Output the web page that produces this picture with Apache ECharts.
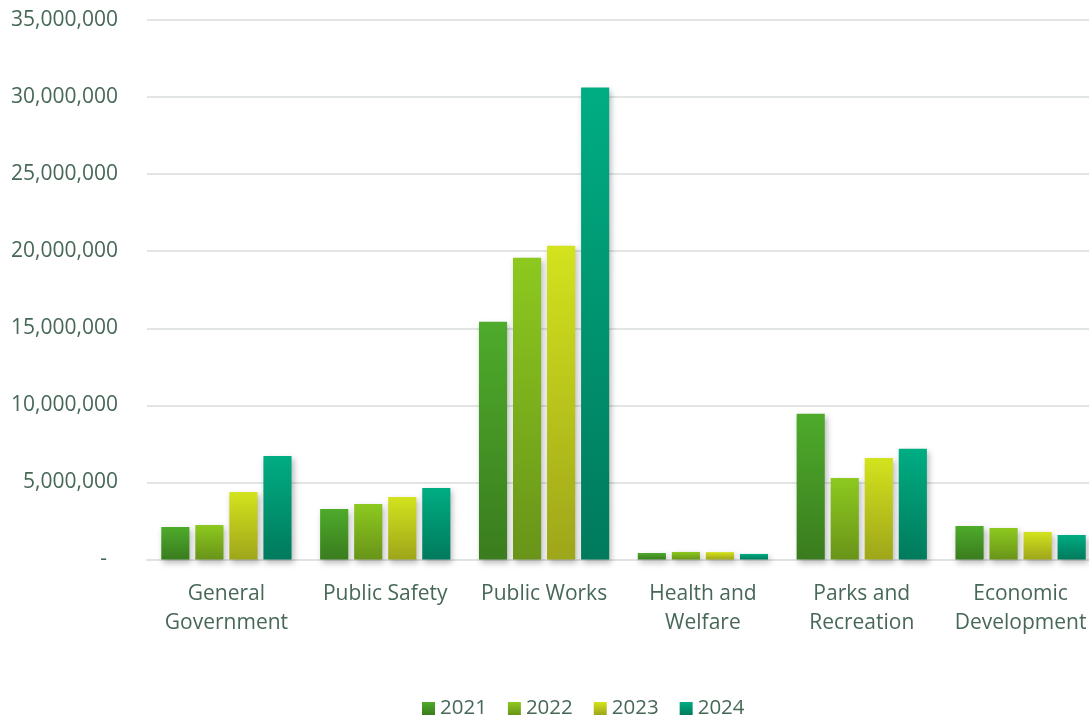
<!DOCTYPE html>
<html>
<head>
<meta charset="utf-8">
<script src="https://cdn.jsdelivr.net/npm/echarts@6/dist/echarts.min.js"></script>
<style>
  html, body { margin: 0; padding: 0; background: #fff; overflow: hidden; }
  #chart { width: 1100px; height: 717px; }
</style>
</head>
<body>
<div id="chart"></div>
<script>
// Expenditures by function, fiscal years 2021–2024
const categories = ['General\nGovernment', 'Public Safety', 'Public Works', 'Health and\nWelfare', 'Parks and\nRecreation', 'Economic\nDevelopment'];
const years = ['2021', '2022', '2023', '2024'];

const values2021 = [2110000, 3280000, 15420000, 420000, 9450000, 2180000];
const values2022 = [2240000, 3600000, 19580000, 490000, 5290000, 2050000];
const values2023 = [4380000, 4060000, 20360000, 480000, 6590000, 1790000];
const values2024 = [6720000, 4640000, 30620000, 360000, 7180000, 1590000];

const yTicks = { min: 0, max: 35000000, interval: 5000000 };

// top / bottom colours of each year's vertical gradient
const palette = [
  ['#4eab2b', '#3a7c1e'],
  ['#8dc91f', '#699419'],
  ['#d3e31d', '#9ea61a'],
  ['#00ad83', '#007a5c']
];

const textColor = '#476857';
const fontFamily = '"Open Sans", "Noto Sans", sans-serif';

function grad(c) {
  return new echarts.graphic.LinearGradient(0, 0, 0, 1, [
    { offset: 0, color: c[0] },
    { offset: 1, color: c[1] }
  ]);
}

const seriesValues = [values2021, values2022, values2023, values2024];

const series = years.map((y, i) => ({
  name: y,
  type: 'bar',
  data: seriesValues[i],
  barGap: '21%',
  barCategoryGap: '18%',
  itemStyle: {
    color: grad(palette[i]),
    shadowColor: 'rgba(0,0,0,0.28)',
    shadowBlur: 6,
    shadowOffsetX: 2,
    shadowOffsetY: 3
  }
}));

const chart = echarts.init(document.getElementById('chart'), null, { renderer: 'canvas' });
chart.setOption({
  backgroundColor: '#ffffff',
  animation: false,
  textStyle: { fontFamily: fontFamily },
  grid: { left: 147, right: 0, top: 20, bottom: 157.5, containLabel: false },
  legend: {
    data: years.map((y, i) => ({ name: y, itemStyle: { color: grad(palette[i]) } })),
    top: 693,
    left: 417,
    itemWidth: 13,
    itemHeight: 13,
    itemGap: 21,
    icon: 'rect',
    textStyle: { color: textColor, fontSize: 20.5, fontFamily: fontFamily }
  },
  xAxis: {
    type: 'category',
    data: categories,
    axisLine: { show: true, lineStyle: { color: '#dfe3e1', width: 2 } },
    axisTick: { show: false },
    axisLabel: {
      color: textColor,
      fontSize: 21,
      fontFamily: fontFamily,
      lineHeight: 29,
      margin: 20,
      interval: 0
    }
  },
  yAxis: {
    type: 'value',
    min: yTicks.min,
    max: yTicks.max,
    interval: yTicks.interval,
    axisLine: { show: false },
    axisTick: { show: false },
    splitLine: { lineStyle: { color: '#e1e5e3', width: 2 } },
    axisLabel: {
      color: textColor,
      fontSize: 21,
      fontFamily: fontFamily,
      margin: 29,
      formatter: v => v === 0 ? '-  ' : v.toLocaleString('en-US')
    }
  },
  series: series
});
</script>
</body>
</html>
